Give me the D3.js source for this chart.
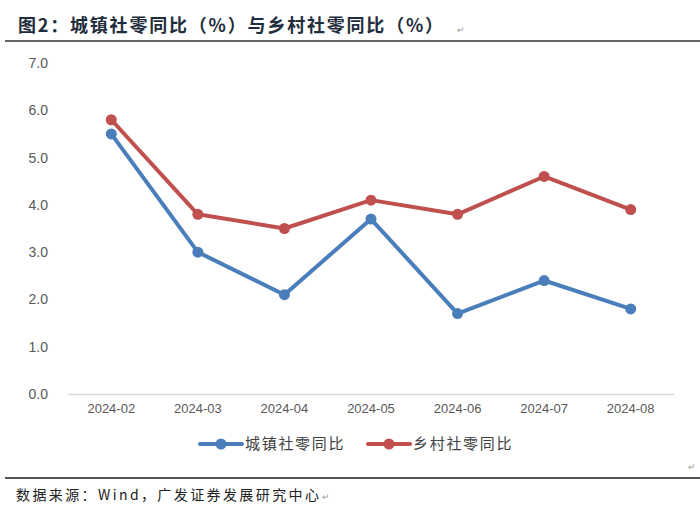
<!DOCTYPE html>
<html><head><meta charset="utf-8">
<script src="https://cdn.jsdelivr.net/npm/d3@7/dist/d3.min.js"></script>
<style>body{margin:0;background:#fff;}svg{display:block;}</style>
</head><body>
<div id="chart"></div>
<script>
const categories = ["2024-02","2024-03","2024-04","2024-05","2024-06","2024-07","2024-08"];
const urbanValues = [5.5, 3.0, 2.1, 3.7, 1.7, 2.4, 1.8];
const ruralValues = [5.8, 3.8, 3.5, 4.1, 3.8, 4.6, 3.9];
const seriesNames = ["城镇社零同比", "乡村社零同比"];
const yTicks = [0,1,2,3,4,5,6,7];
const titleText = "图2：城镇社零同比（%）与乡村社零同比（%）";
const sourceText = "数据来源：Wind，广发证券发展研究中心";

const W = 700, H = 522;
const svg = d3.select("#chart").append("svg").attr("width", W).attr("height", H);
const cjk = "'Noto Sans CJK SC', 'Noto Sans', sans-serif";
const latin = "'Liberation Sans', Arial, sans-serif";

// title
const title = svg.append("text").attr("x", 18).attr("y", 32)
  .attr("font-family", cjk).attr("font-weight", "bold").attr("font-size", 18)
  .attr("letter-spacing", 1.8)
  .attr("fill", "#1f2d3d").text(titleText);
const tw = title.node().getComputedTextLength();
svg.append("text").attr("x", 18 + tw + 12).attr("y", 33).attr("font-size", 9).attr("fill", "#999").text("↵");
svg.append("line").attr("x1", 5).attr("x2", 700).attr("y1", 41).attr("y2", 41)
  .attr("stroke", "#333").attr("stroke-width", 1.5);

const x = d3.scaleBand().domain(categories).range([68, 674]);
const y = d3.scaleLinear().domain([0, 7]).range([394, 63]);

// y axis labels
const yAxis = d3.axisLeft(y).tickValues(yTicks).tickFormat(d3.format(".1f")).tickSize(0).tickPadding(0);
const gy = svg.append("g").attr("transform", "translate(48,0)").call(yAxis);
gy.select(".domain").remove();
gy.selectAll("text").attr("font-family", latin).attr("font-size", 14).attr("fill", "#595959");

// x axis
const xAxis = d3.axisBottom(x).tickSize(0).tickPadding(10);
const gx = svg.append("g").attr("transform", `translate(0,${y(0)})`).call(xAxis);
gx.select(".domain").attr("stroke", "#d9d9d9").attr("stroke-width", 1.5);
gx.selectAll("text").attr("font-family", latin).attr("font-size", 13).attr("fill", "#595959");

const colors = ["#4a7ebb", "#c0504d"];
const data = [urbanValues, ruralValues];
const line = d3.line().x((d, i) => x(categories[i]) + x.bandwidth() / 2).y(d => y(d));

data.forEach((vals, s) => {
  svg.append("path").datum(vals).attr("d", line)
    .attr("fill", "none").attr("stroke", colors[s]).attr("stroke-width", 4)
    .attr("stroke-linejoin", "round").attr("stroke-linecap", "round");
  svg.selectAll(null).data(vals).enter().append("circle")
    .attr("cx", (d, i) => x(categories[i]) + x.bandwidth() / 2)
    .attr("cy", d => y(d)).attr("r", 5.5).attr("fill", colors[s]);
});

// legend
const legX = [200, 368];
seriesNames.forEach((name, s) => {
  const g = svg.append("g").attr("transform", `translate(${legX[s]},444)`);
  g.append("line").attr("x1", 0).attr("x2", 42).attr("y1", 0).attr("y2", 0)
    .attr("stroke", colors[s]).attr("stroke-width", 4).attr("stroke-linecap", "round");
  g.append("circle").attr("cx", 21).attr("cy", 0).attr("r", 5.5).attr("fill", colors[s]);
  g.append("text").attr("x", 45).attr("y", 5).attr("font-family", cjk).attr("font-size", 15)
    .attr("letter-spacing", 1.7).attr("fill", "#404040").text(name);
});
svg.append("text").attr("x", 688).attr("y", 470).attr("font-size", 9).attr("fill", "#999").text("↵");

// footer
svg.append("line").attr("x1", 5).attr("x2", 700).attr("y1", 478).attr("y2", 478)
  .attr("stroke", "#555").attr("stroke-width", 2);
const src = svg.append("text").attr("x", 16).attr("y", 500).attr("font-family", cjk).attr("font-size", 14)
  .attr("letter-spacing", 2.4).attr("fill", "#222").text(sourceText);
const sw = src.node().getComputedTextLength();
svg.append("text").attr("x", 16 + sw + 1).attr("y", 500).attr("font-size", 9).attr("fill", "#999").text("↵");
</script>
</body></html>
